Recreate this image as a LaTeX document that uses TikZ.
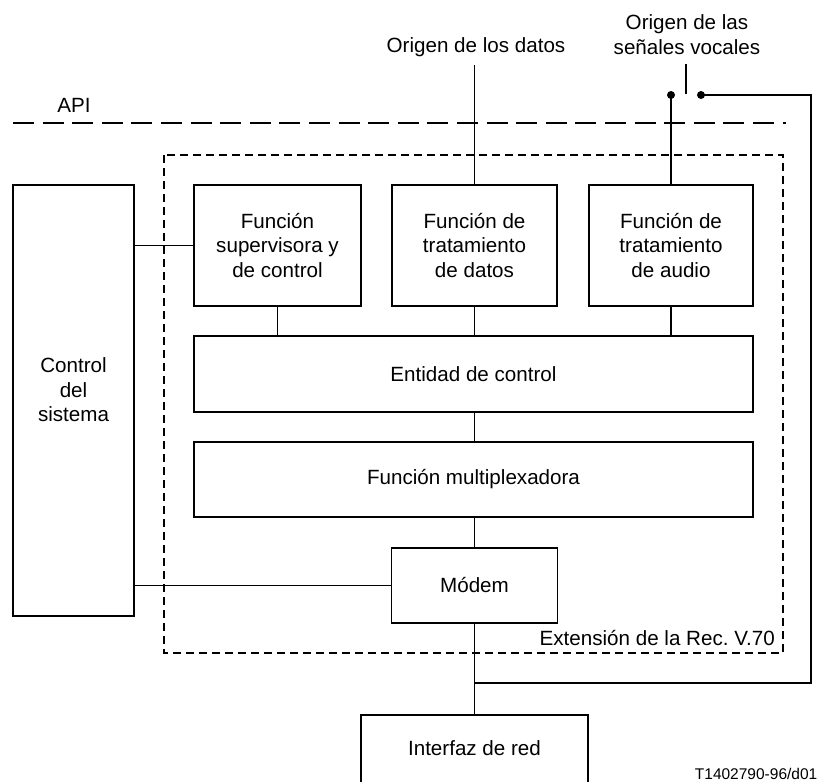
\documentclass[tikz,border=0pt]{standalone}
\usepackage{fontspec}
\setmainfont{Liberation Sans}
\frenchspacing
\begin{document}
\begin{tikzpicture}[x=1pt,y=-1pt,
  box/.style={draw, line width=1.2pt, rectangle, inner sep=0pt, align=center,
    font=\fontsize{20.6}{24.5}\selectfont},
  txt/.style={inner sep=0pt, align=center, font=\fontsize{20.6}{24.5}\selectfont},
  conn/.style={line width=1.5pt},
  apiline/.style={line width=1.6pt, dash pattern=on 21pt off 8.6pt},
  extbox/.style={line width=1.5pt, dash pattern=on 8pt off 5pt},
  dotc/.style={circle, fill, inner sep=0pt, minimum size=8pt}]
\useasboundingbox (0,0) rectangle (820,782);

% extension box
\draw[extbox] (164,155) rectangle (783,653);
\node[txt, anchor=east] (ext) at (775,638) {Extensión de la Rec.\ V.70};

% API line
\node[txt] (api) at (74,105) {API};
\draw[apiline] (13,123) -- (786,123);

% boxes
\node[box, minimum width=121pt, minimum height=431pt] (ctrl) at (73.5,400.5) {};
\node[txt] (ctrltxt) at (73.5,390) {Control\\del\\sistema};
\node[box, minimum width=167pt, minimum height=121pt] (sup) at (277.5,245.5) {Función\\supervisora y\\de control};
\node[box, minimum width=165pt, minimum height=121pt] (dat) at (474.5,245.5) {Función de\\tratamiento\\de datos};
\node[box, minimum width=164pt, minimum height=121pt] (aud) at (671,245.5) {Función de\\tratamiento\\de audio};
\node[box, minimum width=559pt, minimum height=76pt] (ent) at (473.5,374) {Entidad de control};
\node[box, minimum width=559pt, minimum height=75pt] (mux) at (473.5,479.5) {Función multiplexadora};
\node[box, minimum width=166pt, minimum height=75pt] (mod) at (474.5,585.5) {Módem};
\node[box, minimum width=227pt, minimum height=80pt] (red) at (474.5,755) {};
\node[txt] (redtxt) at (474.5,748) {Interfaz de red};

% top labels
\node[txt] (odat) at (476,47) {Origen de los datos};
\node[txt] (ovoc) at (687,34.5) {Origen de las\\señales vocales};
\node[inner sep=0pt, anchor=base east, font=\fontsize{15.5}{18}\selectfont] (ref) at (817.5,779) {T1402790-96/d01};

% switch
\coordinate (swa) at (686,64);
\coordinate (swb) at (686,94);
\node[dotc] (dl) at (671,95) {};
\node[dotc] (dr) at (701,95) {};
\coordinate (rc1) at (811,95);
\coordinate (rc2) at (811,683);
\coordinate (jn) at (474.5,683);
\coordinate (dsrc) at (474.5,65);

% connectors
\draw[conn] (swa) -- (swb);
\draw[conn] (dl.center) -- (dl.center |- aud.north);
\draw[conn] (dr.center) -- (rc1) -- (rc2) -- (jn);
\draw[conn] (dsrc) -- (dat.north);
\draw[conn] (ctrl.east |- sup.west) -- (sup.west);
\draw[conn] (ctrl.east |- mod.west) -- (mod.west);
\draw[conn] (sup.south) -- (sup.south |- ent.north);
\draw[conn] (dat.south) -- (dat.south |- ent.north);
\draw[conn] (aud.south) -- (aud.south |- ent.north);
\draw[conn] (dat.south |- ent.south) -- (dat.south |- mux.north);
\draw[conn] (dat.south |- mux.south) -- (mod.north);
\draw[conn] (mod.south) -- (red.north);
\end{tikzpicture}
\end{document}
